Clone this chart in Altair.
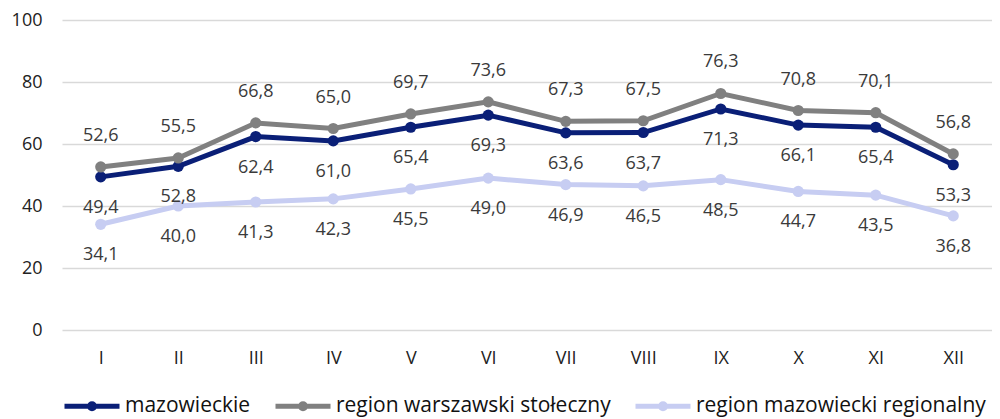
import altair as alt
import pandas as pd

months = ["I", "II", "III", "IV", "V", "VI", "VII", "VIII", "IX", "X", "XI", "XII"]
series_names = ["mazowieckie", "region warszawski stołeczny", "region mazowiecki regionalny"]
mazowieckie = [49.4, 52.8, 62.4, 61.0, 65.4, 69.3, 63.6, 63.7, 71.3, 66.1, 65.4, 53.3]
warszawski = [52.6, 55.5, 66.8, 65.0, 69.7, 73.6, 67.3, 67.5, 76.3, 70.8, 70.1, 56.8]
regionalny = [34.1, 40.0, 41.3, 42.3, 45.5, 49.0, 46.9, 46.5, 48.5, 44.7, 43.5, 36.8]
colors = ["#0A1F77", "#808080", "#C7CDF2"]
y_ticks = [0, 20, 40, 60, 80, 100]

rows = []
for name, vals in zip(series_names, [mazowieckie, warszawski, regionalny]):
    for m, v in zip(months, vals):
        rows.append({"month": m, "series": name, "value": v,
                     "label": f"{v:.1f}".replace(".", ",")})
df = pd.DataFrame(rows)

FONT = "Open Sans"
r = 0.091
sym_path = (f"M-1,0L1,0M-{r},0A{r},{r},0,1,1,{r},0A{r},{r},0,1,1,-{r},0")

x_enc = alt.X("month:N", sort=months, title=None,
              axis=alt.Axis(labelAngle=0, domain=False, ticks=False, grid=False,
                            labelPadding=19, labelFontSize=18, labelColor="#222222",
                            labelFont=FONT))
y_enc = alt.Y("value:Q", title=None,
              scale=alt.Scale(domain=[0, 100], nice=False),
              axis=alt.Axis(values=y_ticks, domain=False, ticks=False, grid=True,
                            gridColor="#D9D9D9", gridWidth=1.5, labelPadding=20,
                            labelFontSize=18, labelColor="#222222", labelFont=FONT,
                            minExtent=54, maxExtent=54))

base = alt.Chart(df).encode(x=x_enc, y=y_enc)

lines = base.mark_line(strokeWidth=5, point=alt.OverlayMarkDef(size=125, filled=True)).encode(
    color=alt.Color("series:N", sort=series_names,
                    scale=alt.Scale(domain=series_names, range=colors),
                    legend=alt.Legend(title=None, orient="bottom", direction="horizontal",
                                      symbolType=sym_path, symbolSize=3025,
                                      symbolStrokeWidth=5, labelFontSize=21,
                                      labelFont=FONT, labelColor="#111111",
                                      labelLimit=0, columnPadding=14, labelOffset=3,
                                      offset=9)),
)

txt_style = dict(fontSize=18, font=FONT, color="#3A3A3A", baseline="middle", align="center")
lab_top = base.transform_filter(alt.datum.series == series_names[1]).mark_text(dy=-31, **txt_style).encode(text="label:N")
lab_bot = base.transform_filter(alt.datum.series != series_names[1]).mark_text(dy=31, **txt_style).encode(text="label:N")

chart = alt.layer(lines, lab_top, lab_bot).properties(
    width=930, height=310,
    padding={"top": 3, "left": 0, "right": 0, "bottom": 0},
).configure_view(stroke=None)

chart.save("out.html", embed_options={"renderer": "svg", "actions": False})
